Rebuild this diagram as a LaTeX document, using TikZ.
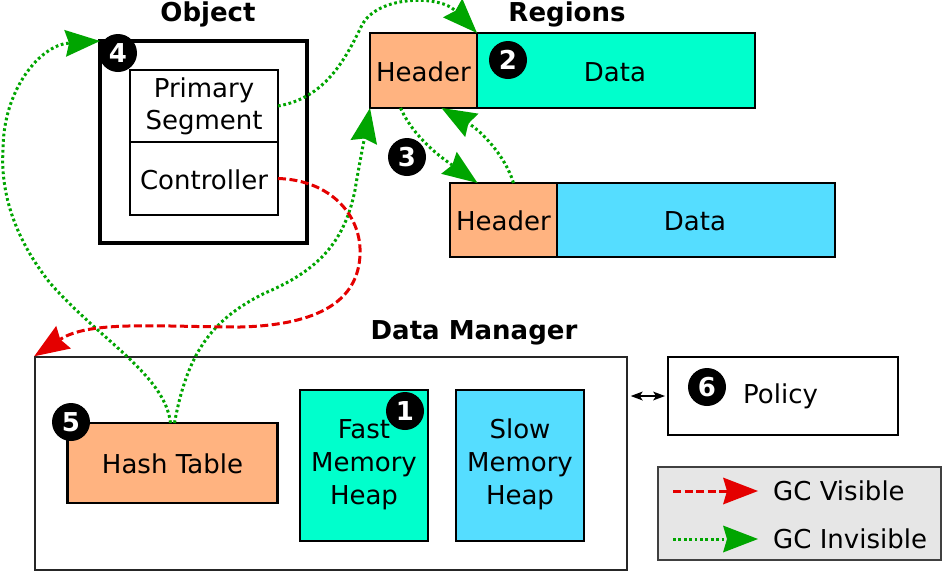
\documentclass[tikz,border=0pt]{standalone}
\usepackage{fontspec}
\setmainfont{DejaVu Sans}
\usetikzlibrary{arrows.meta}
\definecolor{hdr}{RGB}{255,179,128}
\definecolor{aqua}{RGB}{0,255,204}
\definecolor{sky}{RGB}{85,221,255}
\definecolor{gcgreen}{RGB}{0,165,0}
\definecolor{gcred}{RGB}{228,0,0}
\definecolor{leg}{RGB}{230,230,230}
\tikzset{
  box/.style={draw, line width=2.5pt, inner sep=0pt, outer sep=0pt},
  lbl/.style={anchor=base, inner sep=0pt, font=\fontsize{26}{33}\selectfont},
  ttl/.style={anchor=base, inner sep=0pt, font=\fontsize{26}{30}\selectfont\bfseries},
  num/.style={circle, fill=black, text=white, inner sep=0pt, minimum size=38pt, font=\fontsize{26}{26}\selectfont\bfseries},
  bigtip/.style={-{Stealth[length=35pt,width=27pt,inset=4pt,line width=0pt]}},
  inv/.style={draw=gcgreen, line width=3pt, dash pattern=on 2.7pt off 2.7pt, bigtip},
  vis/.style={draw=gcred, line width=3pt, dash pattern=on 8pt off 3.5pt, bigtip},
  dbl/.style={draw, line width=1.5pt, {Stealth[length=12pt,width=9pt,inset=3pt,line width=0pt]}-{Stealth[length=12pt,width=9pt,inset=3pt,line width=0pt]}},
}
\begin{document}
\begin{tikzpicture}[x=1pt,y=-1pt]
\useasboundingbox (0,0) rectangle (942,571);

% Object
\node[box, line width=3.5pt, minimum width=207pt, minimum height=202pt] (obj) at (203.5,142) {};
\node[ttl] (objt) at (208,21) {Object};
\node[box, minimum width=148pt, minimum height=72pt] (ps) at (204,106) {};
\node[box, minimum width=148pt, minimum height=73pt] (ctl) at (204,178.5) {};
\node[lbl] (pst1) at (204,97) {Primary};
\node[lbl] (pst2) at (204,129) {Segment};
\node[lbl] (ctlt) at (204,189) {Controller};

% Regions
\node[ttl] (regt) at (567,21) {Regions};
\node[box, fill=hdr, minimum width=107pt, minimum height=75pt] (h1) at (423.5,70.5) {};
\node[box, fill=aqua, minimum width=278pt, minimum height=75pt] (d1) at (616,70.5) {};
\node[lbl] (h1t) at (423.5,81) {Header};
\node[lbl] (d1t) at (615,81) {Data};
\node[box, fill=hdr, minimum width=107pt, minimum height=74pt] (h2) at (503.5,220) {};
\node[box, fill=sky, minimum width=278pt, minimum height=74pt] (d2) at (696,220) {};
\node[lbl] (h2t) at (503.5,230) {Header};
\node[lbl] (d2t) at (695,230) {Data};

% Data Manager
\node[ttl] (dmt) at (474,339) {Data Manager};
\node[draw=black!85, line width=1.5pt, minimum width=592pt, minimum height=213pt, inner sep=0pt] (dm) at (331,463.5) {};
\node[box, fill=hdr, minimum width=210pt, minimum height=80pt] (ht) at (172.5,463) {};
\node[lbl] (htt) at (172.5,473) {Hash Table};
\node[box, fill=aqua, minimum width=128pt, minimum height=151pt] (fm) at (364,465.5) {};
\node[lbl] (fm1) at (364,438) {Fast};
\node[lbl] (fm2) at (364,471) {Memory};
\node[lbl] (fm3) at (364,504) {Heap};
\node[box, fill=sky, minimum width=128pt, minimum height=151pt] (sm) at (520,465.5) {};
\node[lbl] (sm1) at (520,438) {Slow};
\node[lbl] (sm2) at (520,471) {Memory};
\node[lbl] (sm3) at (520,504) {Heap};

% Policy
\node[box, minimum width=230pt, minimum height=78pt] (pol) at (783,396) {};
\node[lbl, anchor=base west] (polt) at (743,403) {Policy};

% Legend
\node[draw=black!75, fill=leg, line width=1.5pt, minimum width=283pt, minimum height=93pt, inner sep=0pt] (leg) at (799.5,513.5) {};
\coordinate (lv1) at (673,491);
\coordinate (lv2) at (758,491);
\coordinate (li1) at (673,539);
\coordinate (li2) at (758,539);
\node[lbl, anchor=base west] (lvt) at (773,500) {GC Visible};
\node[lbl, anchor=base west] (lit) at (773,548) {GC Invisible};
\draw[vis] (lv1) -- (lv2);
\draw[inv] (li1) -- (li2);

% connectors
\draw[inv] (ps.east) .. controls (325,98) and (345,60) .. (362,25) .. controls (378,-5) and (440,-5) .. (d1.north west);
\draw[inv] ([xshift=-2pt]ht.north) .. controls (165,375) and (100,340) .. (50,283) .. controls (20,245) and (0,200) .. (3,150) .. controls (3,90) and (40,45) .. (obj.north west);
\draw[inv] ([xshift=2pt]ht.north) .. controls (187,355) and (210,320) .. (265,293) .. controls (320,270) and (345,240) .. (355,190) .. controls (360,160) and (366,130) .. (h1.south west);
\draw[inv] ([xshift=-23pt]h1.south) .. controls (415,140) and (445,160) .. ([xshift=-26pt]h2.north);
\draw[inv] ([xshift=10pt]h2.north) .. controls (505,155) and (480,130) .. ([xshift=18pt]h1.south);
\draw[vis] (ctl.east) .. controls (330,180) and (362,215) .. (360,255) .. controls (358,300) and (320,325) .. (240,327) .. controls (160,327) and (90,320) .. (dm.north west);
\draw[dbl] ([xshift=3pt]pol.west -| dm.east) -- ([xshift=-3pt]pol.west);

% numbers
\node[num] (c1) at (405,411) {1};
\node[num] (c2) at (508,60) {2};
\node[num] (c3) at (407,157) {3};
\node[num] (c4) at (118,53) {4};
\node[num] (c5) at (71,422) {5};
\node[num] (c6) at (707,387) {6};
\end{tikzpicture}
\end{document}
